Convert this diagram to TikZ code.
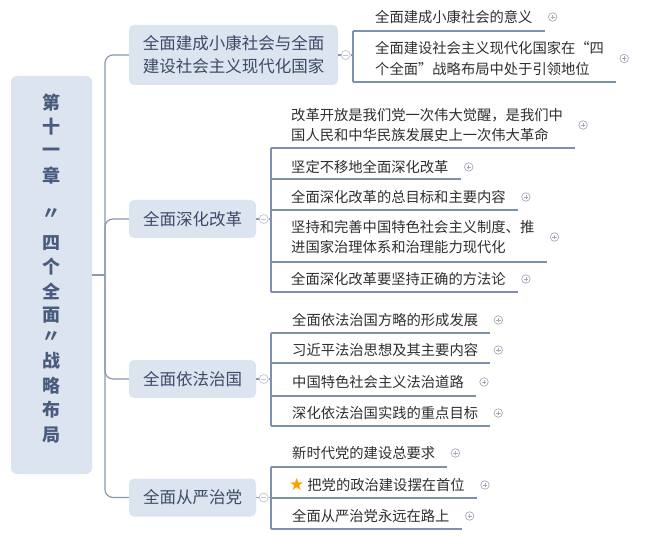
\documentclass[tikz,border=0pt]{standalone}
\usepackage{fontspec}
\setmainfont{Noto Sans CJK SC}
\newfontfamily\symfont{DejaVu Sans}
\usetikzlibrary{calc}
\definecolor{nodefill}{HTML}{DCE4EF}
\definecolor{nodetext}{HTML}{3B4A66}
\definecolor{roottext}{HTML}{4A5C7E}
\definecolor{itemtext}{HTML}{2F2F2F}
\definecolor{linecol}{HTML}{8A98B0}
\definecolor{ulcol}{HTML}{7D90AE}
\definecolor{btncol}{HTML}{A3ABBA}
\definecolor{starcol}{HTML}{F5A300}
\begin{document}
\begin{tikzpicture}[x=1pt,y=-1pt,
  rootbox/.style={fill=nodefill, rounded corners=6pt, minimum width=81pt, minimum height=398pt, inner sep=0pt},
  rootchar/.style={font=\fontsize{18}{18}\selectfont\bfseries, text=roottext, inner sep=0pt},
  topic/.style={fill=nodefill, rounded corners=5pt, text=nodetext, font=\fontsize{16.5}{23}\selectfont, inner sep=0pt, align=center},
  item/.style={anchor=west, inner sep=0pt, text=itemtext, font=\fontsize{14.3}{20.5}\selectfont, align=left},
  plusbtn/.style={circle, draw=btncol, line width=0.7pt, fill=white, minimum size=8.5pt, inner sep=0pt,
    path picture={\draw[btncol, line width=0.7pt]
      ($(path picture bounding box.center)+(-2.2pt,0pt)$) -- ($(path picture bounding box.center)+(2.2pt,0pt)$)
      ($(path picture bounding box.center)+(0pt,-2.2pt)$) -- ($(path picture bounding box.center)+(0pt,2.2pt)$);}},
  minusbtn/.style={circle, draw=btncol!70, line width=0.7pt, fill=white, minimum size=9pt, inner sep=0pt,
    path picture={\draw[btncol!70, line width=0.7pt]
      ($(path picture bounding box.center)+(-2.4pt,0pt)$) -- ($(path picture bounding box.center)+(2.4pt,0pt)$);}},
  branch/.style={draw=linecol, line width=1.2pt},
  uline/.style={draw=ulcol, line width=1.4pt},
]
\useasboundingbox (0,0) rectangle (650,537);
\fill[white] (0,0) rectangle (650,537);

% root
\node[rootbox] (root) at (51.5,275) {};
\foreach \ch/\yy [count=\k] in {第/103,十/127,一/152,章/176,〃/214,四/243,个/267,全/291,面/315,〃/337,战/361,略/386,布/410,局/435}
  \node[rootchar] (r\k) at (51.5,\yy) {\ch};

% topics
\node[topic, minimum width=209pt, minimum height=60pt] (g1) at (233.5,55) {全面建成小康社会与全面\\建设社会主义现代化国家};
\node[topic, minimum width=127pt, minimum height=38pt] (g2) at (192.5,219) {全面深化改革};
\node[topic, minimum width=127pt, minimum height=38pt] (g3) at (192.5,379) {全面依法治国};
\node[topic, minimum width=127pt, minimum height=38pt] (g4) at (192.5,497.5) {全面从严治党};

% trunk
\coordinate (trunk) at (105,275);
\draw[branch] (root.east) -- (trunk);
\draw[branch, rounded corners=8pt] (g1.west) -| (trunk) |- (g4.west);
\draw[branch, rounded corners=8pt] (trunk) |- (g2.west);
\draw[branch, rounded corners=8pt] (trunk) |- (g3.west);

% ---------- group 1 items
\node[item] (i11) at (375,17) {全面建成小康社会的意义};
\node[item] (i12) at (375,58.5) {全面建设社会主义现代化国家在“四\\个全面”战略布局中处于引领地位};
% ---------- group 2 items
\node[item] (i21) at (291,125) {改革开放是我们党一次伟大觉醒，是我们中\\国人民和中华民族发展史上一次伟大革命};
\node[item] (i22) at (291,167) {坚定不移地全面深化改革};
\node[item] (i23) at (291,197) {全面深化改革的总目标和主要内容};
\node[item] (i24) at (291,237) {坚持和完善中国特色社会主义制度、推\\进国家治理体系和治理能力现代化};
\node[item] (i25) at (291,279) {全面深化改革要坚持正确的方法论};
% ---------- group 3 items
\node[item] (i31) at (292,320) {全面依法治国方略的形成发展};
\node[item] (i32) at (292,350) {习近平法治思想及其主要内容};
\node[item] (i33) at (292,382) {中国特色社会主义法治道路};
\node[item] (i34) at (292,413) {深化依法治国实践的重点目标};
% ---------- group 4 items
\node[item] (i41) at (292,453) {新时代党的建设总要求};
\node[item] (i42) at (289,485) {{\symfont\fontsize{17}{17}\selectfont\color{starcol}★}\hspace{3pt}把党的政治建设摆在首位};
\node[item] (i43) at (292,516) {全面从严治党永远在路上};

% plus buttons
\foreach \n in {11,12,21,22,23,24,25,31,32,33,34,41,42,43}
  \node[plusbtn] (p\n) at ($(i\n.east)+(20,0)$) {};

% underline anchors
\coordinate (u11) at (353,31);  \coordinate (u12) at (353,82);
\coordinate (u21) at (271,148); \coordinate (u22) at (271,179); \coordinate (u23) at (271,210);
\coordinate (u24) at (271,262); \coordinate (u25) at (271,292);
\coordinate (u31) at (271,333); \coordinate (u32) at (271,363); \coordinate (u33) at (271,396); \coordinate (u34) at (271,426);
\coordinate (u41) at (271,467); \coordinate (u42) at (271,498); \coordinate (u43) at (271,529);

\foreach \n in {11,12,21,22,23,24,25,31,32,33,34,41,42,43}
  \draw[uline] (u\n) -- ($(u\n -| p\n)+(-8,0)$);

% brackets
\draw[uline] (u11) -- (u12);
\draw[uline] (u21) -- (u25);
\draw[uline] (u31) -- (u34);
\draw[uline] (u41) -- (u43);

% collapse buttons and links
\node[minusbtn] (m1) at ($(g1.east)+(7.5,0)$) {};
\node[minusbtn] (m2) at ($(g2.east)+(7.5,0)$) {};
\node[minusbtn] (m3) at ($(g3.east)+(7.5,0)$) {};
\node[minusbtn] (m4) at ($(g4.east)+(7.5,0)$) {};
\draw[branch] (g1.east) -- (m1.west);  \draw[branch] (m1.east) -- (m1 -| u11);
\draw[branch] (g2.east) -- (m2.west);  \draw[branch] (m2.east) -- (m2 -| u21);
\draw[branch] (g3.east) -- (m3.west);  \draw[branch] (m3.east) -- (m3 -| u31);
\draw[branch] (g4.east) -- (m4.west);  \draw[branch] (m4.east) -- (m4 -| u41);
\end{tikzpicture}
\end{document}
